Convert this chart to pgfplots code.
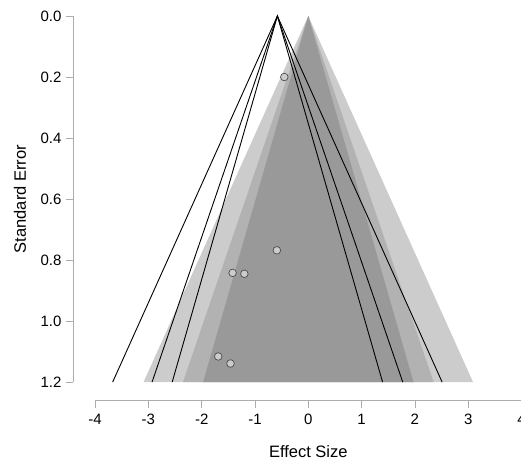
\documentclass[border=0pt]{standalone}
\usepackage{fontspec}
\setmainfont{Liberation Sans}
\usepackage{pgfplots}
\pgfplotsset{compat=1.18}
\definecolor{gOuter}{gray}{0.80}
\definecolor{gMid}{gray}{0.70}
\definecolor{gInner}{gray}{0.60}
\definecolor{axgray}{gray}{0.68}
\begin{document}
\begin{tikzpicture}
\begin{axis}[
  scale only axis,
  width=470.6pt, height=384.7pt,
  xmin=-4.415, xmax=4.415,
  ymin=0, ymax=1.261,
  y dir=reverse,
  clip=false,
  axis line style={draw=none},
  tick align=outside,
  major tick length=7pt,
  tick style={axgray, line width=0.8pt},
  xtick={-4,-3,-2,-1,0,1,2,3,4},
  xticklabels={-4,-3,-2,-1,0,1,2,3,4},
  ytick={0,0.2,0.4,0.6,0.8,1.0,1.2},
  yticklabels={0.0,0.2,0.4,0.6,0.8,1.0,1.2},
  xtick pos=left,
  ytick pos=left,
  ticklabel style={font=\fontsize{15}{17}\selectfont},
  yticklabel style={xshift=-1pt},
  xticklabel style={yshift=-3pt},
]
% contour regions (centered at 0)
\addplot[fill=gOuter, draw=none] coordinates {(-3.091,1.2) (0,0) (3.091,1.2)} -- cycle;
\addplot[fill=gMid, draw=none] coordinates {(-2.352,1.2) (0,0) (2.352,1.2)} -- cycle;
\addplot[fill=gInner, draw=none] coordinates {(-1.974,1.2) (0,0) (1.974,1.2)} -- cycle;
% funnel lines centred at the estimate
\addplot[black, line width=0.9pt] coordinates {(-3.671,1.2) (-0.58,0) (2.511,1.2)};
\addplot[black, line width=0.9pt] coordinates {(-2.932,1.2) (-0.58,0) (1.772,1.2)};
\addplot[black, line width=0.9pt] coordinates {(-2.554,1.2) (-0.58,0) (1.394,1.2)};
% studies
\addplot[only marks, mark=*, mark size=3.8pt,
  mark options={fill=gOuter, draw=black!70, line width=0.7pt}]
  coordinates {(-0.45,0.200) (-0.59,0.768) (-1.42,0.842) (-1.20,0.845) (-1.69,1.116) (-1.46,1.139)};
% axis lines
\draw[axgray, line width=0.8pt] (axis cs:-4,1.261) -- (axis cs:4,1.261);
\draw[axgray, line width=0.8pt] (axis cs:-4.415,0) -- (axis cs:-4.415,1.2);
\coordinate (tl) at (axis cs:-4.415,0);
\node[font=\fontsize{16.5}{19}\selectfont] at ([yshift=-51pt]axis cs:0,1.261) {Effect Size};
\node[font=\fontsize{16.5}{19}\selectfont, rotate=90] at ([xshift=-53pt]axis cs:-4.415,0.6) {Standard Error};
\end{axis}
\pgfresetboundingbox
\path (tl) ++(-73pt,16pt) rectangle ++(521pt,-461pt);
\end{tikzpicture}
\end{document}
